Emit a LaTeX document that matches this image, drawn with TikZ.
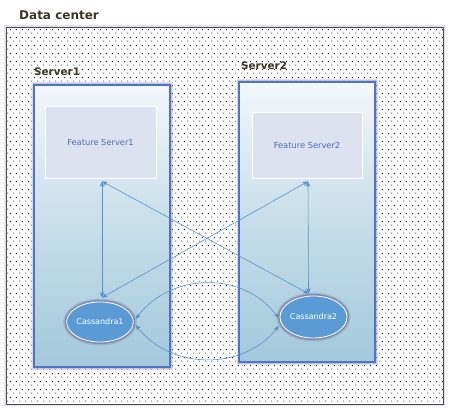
\documentclass[tikz,border=0pt]{standalone}
\usepackage{fontspec}
\setmainfont{DejaVu Sans}
\usetikzlibrary{patterns.meta,arrows.meta,shapes.geometric}
\definecolor{lblcol}{HTML}{3B3428}
\definecolor{srvborder}{HTML}{4F74C4}
\definecolor{srvtop}{HTML}{F2F7FB}
\definecolor{srvbot}{HTML}{A3C9DC}
\definecolor{fsfill}{HTML}{DCE2F0}
\definecolor{fstext}{HTML}{4A6FB0}
\definecolor{cassfill}{HTML}{5B9BD5}
\definecolor{linkcol}{HTML}{5A90C8}
\definecolor{glowcol}{HTML}{6A6A92}
\definecolor{softglow}{HTML}{A8A8CC}
\tikzdeclarepattern{name=stagdots, type=uncolored,
  bounding box={(0pt,0pt) and (6pt,8pt)}, tile size={(6pt,8pt)},
  code={\fill (1.5pt,1.5pt) rectangle (2.6pt,2.6pt);
        \fill (4.5pt,5.5pt) rectangle (5.6pt,6.6pt);}}
\begin{document}
\begin{tikzpicture}[x=1pt,y=-1pt,
  outerbox/.style={draw=black!70, line width=0.8pt,
    preaction={draw=softglow, line width=4pt, opacity=0.35},
    preaction={fill=white},
    pattern=stagdots, pattern color=black!90,
    inner sep=0pt},
  serverbox/.style={draw=srvborder, line width=1.4pt, top color=srvtop, bottom color=srvbot,
    middle color=srvbot!55!srvtop,
    preaction={draw=softglow, line width=5pt, opacity=0.35},
    preaction={draw=softglow, line width=3pt, opacity=0.5},
    inner sep=0pt},
  featurebox/.style={draw=white, line width=0.8pt, fill=fsfill, inner sep=0pt,
    font=\fontsize{8.3}{9}\selectfont, text=fstext},
  cass/.style={ellipse, draw=white, line width=0.8pt, fill=cassfill, inner sep=0pt,
    preaction={draw=glowcol, line width=7pt, opacity=0.25},
    preaction={draw=glowcol, line width=4pt, opacity=0.55},
    font=\fontsize{8}{9}\selectfont, text=white},
  lbl/.style={font=\bfseries\fontsize{12}{14}\selectfont, text=lblcol, inner sep=0pt, anchor=west},
  slbl/.style={font=\bfseries\fontsize{10.4}{12}\selectfont, text=lblcol, inner sep=0pt, anchor=west},
  link/.style={draw=linkcol, line width=0.6pt, {Stealth[length=5.5pt,width=4.5pt]}-{Stealth[length=5.5pt,width=4.5pt]}}
]
\useasboundingbox (0,0) rectangle (449,411);
\node[outerbox, minimum width=437pt, minimum height=377pt] (dc) at (224.5,215.5) {};
\node[lbl] (dcl) at (19,15) {Data center};

\node[serverbox, minimum width=136pt, minimum height=282pt] (s1) at (102,226) {};
\node[serverbox, minimum width=136pt, minimum height=280pt] (s2) at (307,222) {};
\node[slbl] (s1l) at (34,72) {Server1};
\node[slbl] (s2l) at (241,66) {Server2};

\node[featurebox, minimum width=111pt, minimum height=72pt] (fs1) at (100.5,142) {Feature Server1};
\node[featurebox, minimum width=110pt, minimum height=66pt] (fs2) at (307,145) {Feature Server2};

\node[cass, minimum width=65pt, minimum height=40pt] (c1) at (100,322) {Cassandra1};
\node[cass, minimum width=67pt, minimum height=42pt] (c2) at (313.5,317) {Cassandra2};

\coordinate (p1) at ([xshift=1.5pt,yshift=-3pt]fs1.south);
\coordinate (p2) at ([xshift=1pt,yshift=-3pt]fs2.south);
\coordinate (q1) at ([xshift=2pt,yshift=4pt]c1.north);
\coordinate (q2) at ([xshift=-5pt,yshift=2pt]c2.north);

\draw[link] (p1) -- (q1);
\draw[link] (p1) -- (q2);
\draw[link] (p2) -- (q1);
\draw[link] (p2) -- (q2);

\draw[link] ([xshift=2pt,yshift=3pt]c1.east) .. controls +(35,-47) and +(-35,-47) .. ([xshift=-1pt,yshift=-1pt]c2.west);
\draw[link] ([xshift=2pt,yshift=-3pt]c1.east) .. controls +(35,45) and +(-35,45) .. ([xshift=-1pt,yshift=-9pt]c2.west);
\end{tikzpicture}
\end{document}
